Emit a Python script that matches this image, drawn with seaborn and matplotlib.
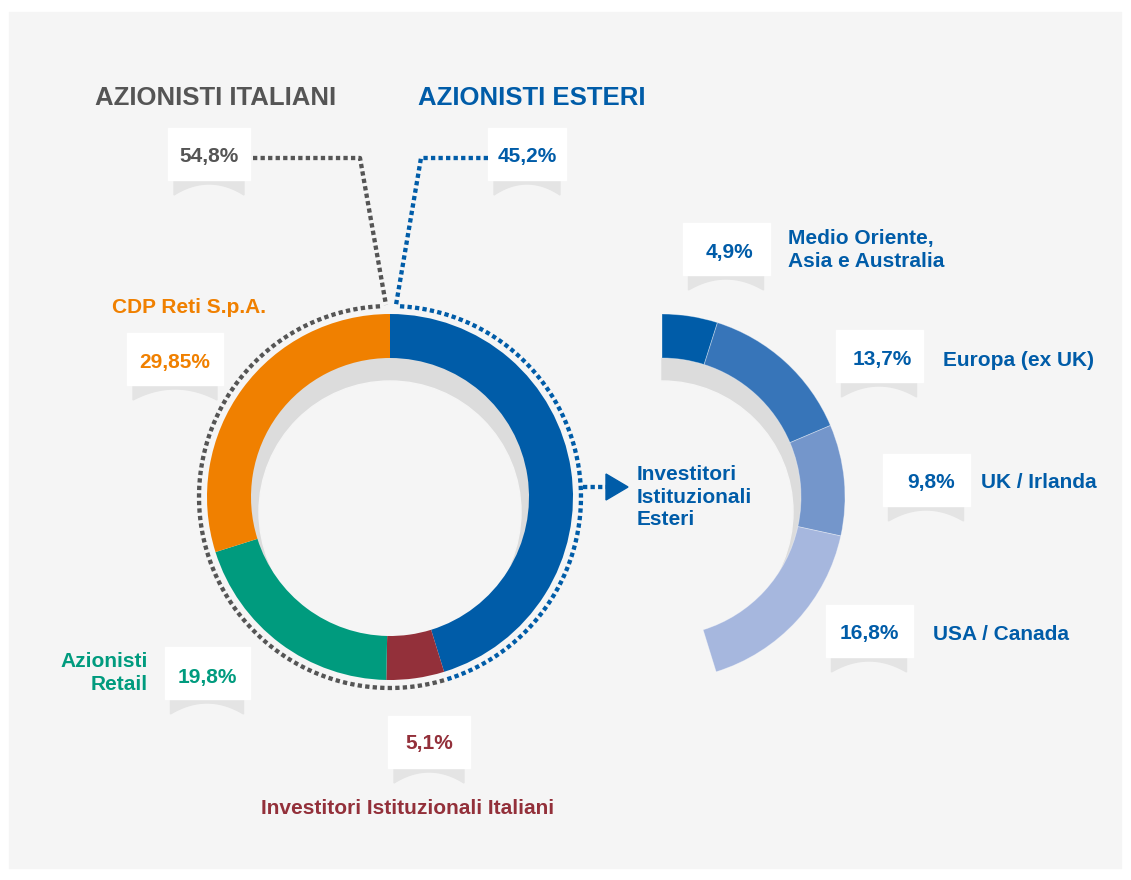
import numpy as np
import matplotlib
matplotlib.use("Agg")
import matplotlib.pyplot as plt
from matplotlib.patches import Rectangle, Circle, Wedge, Polygon
import seaborn as sns

# ---- data ----
group_labels = ["AZIONISTI ITALIANI", "AZIONISTI ESTERI"]
group_values = [54.8, 45.2]

main_labels = ["Investitori\nIstituzionali\nEsteri", "Investitori Istituzionali Italiani",
               "Azionisti\nRetail", "CDP Reti S.p.A."]
main_values = [45.2, 5.1, 19.8, 29.85]
main_colors = ["#005ca8", "#93303a", "#009b7e", "#f08000"]

foreign_labels = ["Medio Oriente,\nAsia e Australia", "Europa (ex UK)",
                  "UK / Irlanda", "USA / Canada"]
foreign_values = [4.9, 13.7, 9.8, 16.8]
foreign_colors = ["#005ca8", "#3775b9", "#7496cb", "#a6b7de"]

GRAY = "#555555"
BLUE = "#005ca8"
BG = "#f5f5f5"

sns.set_theme(style="white")
plt.rcParams["font.family"] = ["Liberation Sans", "DejaVu Sans"]

W, H = 1131, 880


def Y(y):
    # pixel row (from top) -> data y
    return H - y


def pct(v):
    return f"{v:g}".replace(".", ",") + "%"


fig = plt.figure(figsize=(W / 100, H / 100), dpi=100, facecolor="white")
ax = fig.add_axes([0, 0, 1, 1])
ax.add_patch(Rectangle((9, Y(868)), 1112, 856, color=BG, zorder=0))

# shadows inside the rings
C1 = (390, 497)
C2 = (662, 497)
R, WID = 183, 44
ax.add_patch(Circle((C1[0], Y(C1[1])), R - WID, color="#dcdcdc", zorder=1))
ax.add_patch(Circle((C1[0], Y(C1[1] + 15)), R - WID - 8, color=BG, zorder=2))
ax.add_patch(Wedge((C2[0], Y(C2[1])), R - WID, -90, 90, color="#dcdcdc", zorder=1))
ax.add_patch(Circle((C2[0], Y(C2[1] + 15)), R - WID - 8, color=BG, zorder=2))

total = sum(main_values)
ax.pie(main_values, colors=main_colors, startangle=90, counterclock=False,
       radius=R, center=(C1[0], Y(C1[1])), frame=True,
       wedgeprops=dict(width=WID, edgecolor="none", zorder=3))
ax.pie([v / total for v in foreign_values], colors=foreign_colors, startangle=90,
       counterclock=False, normalize=False, radius=R, center=(C2[0], Y(C2[1])),
       frame=True, wedgeprops=dict(width=WID, edgecolor="#ffffff60", linewidth=0.6, zorder=3))

# dotted arcs around the two groups
dot = dict(lw=3.1, linestyle=(0, (1, 0.75)), dash_capstyle="butt", zorder=5)
end_ang = 90 - 360 * group_values[1] / total
ra = 191
t = np.radians(np.linspace(93, 360 + end_ang, 300))
ax.plot(C1[0] + ra * np.cos(t), Y(C1[1]) + ra * np.sin(t), color=GRAY, **dot)
t = np.radians(np.linspace(87, end_ang, 300))
ax.plot(C1[0] + ra * np.cos(t), Y(C1[1]) + ra * np.sin(t), color=BLUE, **dot)

# leader lines
ax.plot([253, 360, 386], [Y(158), Y(158), Y(305)], color=GRAY, **dot)
ax.plot([488, 421, 396], [Y(158), Y(158), Y(305)], color=BLUE, **dot)

# arrow to the breakdown
ax.plot([583, 606], [Y(487), Y(487)], color=BLUE, **dot)
ax.add_patch(Polygon([(606, Y(474)), (628, Y(487)), (606, Y(500))], color=BLUE, zorder=5))


def label_box(cx, cy, w, text, color, tx=None, ty=None):
    h = 52
    x0, x1 = cx - w / 2, cx + w / 2
    yb = cy + h / 2
    xs = np.linspace(x0 + 6, x1 - 6, 40)
    tt = (xs - cx) / (w / 2 - 6)
    depth = 4 + 11 * tt ** 2
    pts = [(x0 + 6, Y(yb)), (x1 - 6, Y(yb))] + [(x, Y(yb + d)) for x, d in zip(xs[::-1], depth[::-1])]
    ax.add_patch(Polygon(pts, color="#e4e4e4", zorder=4))
    ax.add_patch(Rectangle((x0, Y(cy + h / 2)), w, h, color="white", zorder=4))
    ax.text(cx if tx is None else tx, Y((cy + 2) if ty is None else ty), text,
            color=color, fontsize=15, fontweight="bold", ha="center", va="center", zorder=6)


# group headers and values
ax.text(95, Y(98), group_labels[0], color=GRAY, fontsize=18.5, fontweight="bold", va="center")
ax.text(418, Y(98), group_labels[1], color=BLUE, fontsize=18.5, fontweight="bold", va="center")
label_box(209, 154, 82, pct(group_values[0]), GRAY)
label_box(527, 154, 78, pct(group_values[1]), BLUE)

# main ring labels
lab = dict(fontsize=15, fontweight="bold", linespacing=1.25, zorder=6)
ax.text(637, Y(497), main_labels[0], color=main_colors[0], ha="left", va="center", **lab)
ax.text(408, Y(808), main_labels[1], color=main_colors[1], ha="center", va="center", **lab)
ax.text(148, Y(673), main_labels[2], color=main_colors[2], ha="right", va="center",
        multialignment="right", **lab)
ax.text(112, Y(307), main_labels[3], color=main_colors[3], ha="left", va="center", **lab)
label_box(429, 742, 82, pct(main_values[1]), main_colors[1])
label_box(207, 673, 85, pct(main_values[2]), main_colors[2], ty=677)
label_box(175, 359, 96, pct(main_values[3]), main_colors[3], ty=362)

# foreign breakdown labels
box_pos = [(726, 249, 87, 729, 252), (879, 356, 87, 882, 359),
           (926, 480, 87, 931, 482), (869, 631, 87, 869, 634)]
text_pos = [(788, 250), (943, 360), (981, 482), (933, 635)]
for v, l, (bx, by, bw, tx, ty), (lx, ly) in zip(foreign_values, foreign_labels, box_pos, text_pos):
    label_box(bx, by, bw, pct(v), BLUE, tx=tx, ty=ty)
    ax.text(lx, Y(ly), l, color=BLUE, ha="left", va="center", **lab)

ax.set_xlim(0, W)
ax.set_ylim(0, H)
ax.set_aspect("equal")
ax.axis("off")
fig.savefig("out.png", dpi=100, facecolor="white")
